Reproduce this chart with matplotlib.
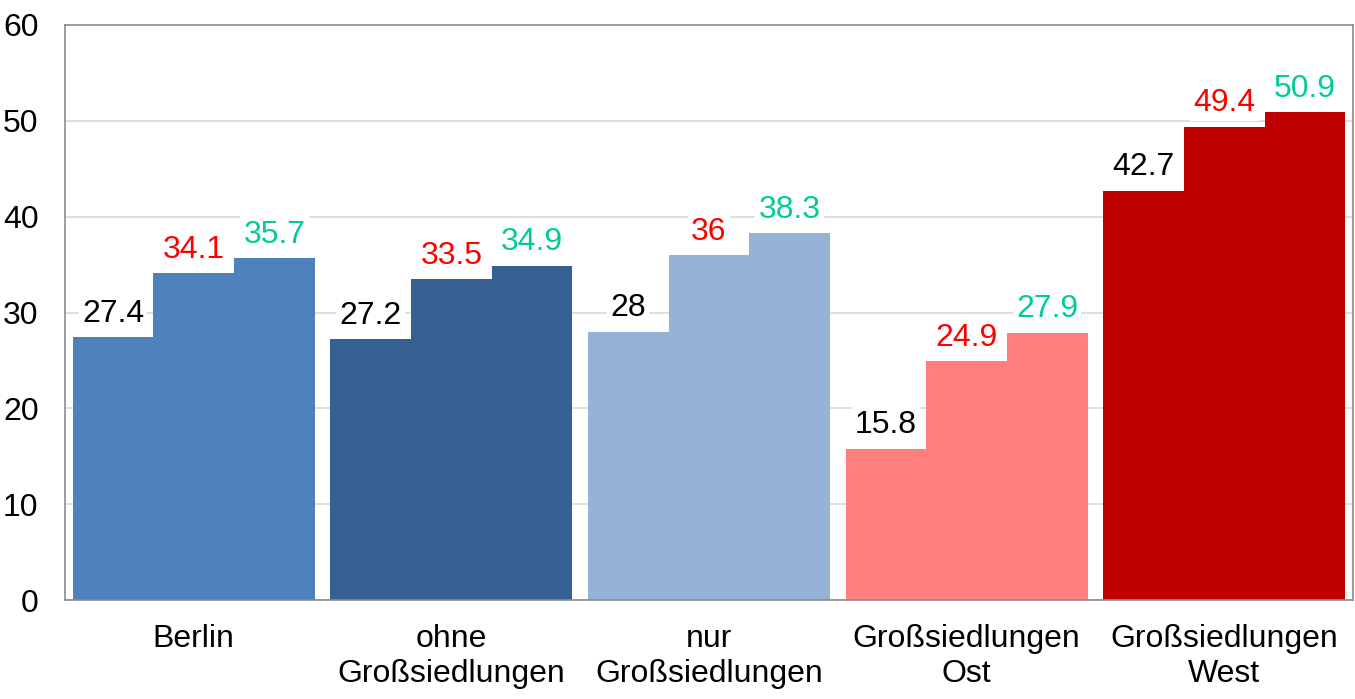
import matplotlib.pyplot as plt
import numpy as np

plt.rcParams['font.family'] = ['Liberation Sans', 'DejaVu Sans']

categories = ['Berlin', 'ohne\nGroßsiedlungen', 'nur\nGroßsiedlungen',
              'Großsiedlungen\nOst', 'Großsiedlungen\nWest']
series1 = [27.4, 27.2, 28.0, 15.8, 42.7]
series2 = [34.1, 33.5, 36.0, 24.9, 49.4]
series3 = [35.7, 34.9, 38.3, 27.9, 50.9]
labels1 = ['27.4', '27.2', '28', '15.8', '42.7']
labels2 = ['34.1', '33.5', '36', '24.9', '49.4']
labels3 = ['35.7', '34.9', '38.3', '27.9', '50.9']
group_colors = ['#4F81BD', '#366092', '#95B3D7', '#FF7F7F', '#C00000']
label_colors = ['black', '#FF0000', '#00CC99']

fig = plt.figure(figsize=(13.55, 6.99), dpi=100)
ax = fig.add_axes([65 / 1355, 1 - 600 / 699, 1288 / 1355, 575 / 699])

x = np.arange(len(categories))
w = 0.313
for i, (vals, labs) in enumerate([(series1, labels1), (series2, labels2), (series3, labels3)]):
    pos = x + (i - 1) * w
    ax.bar(pos, vals, width=w, color=group_colors, zorder=2)
    for p, v, t in zip(pos, vals, labs):
        ax.annotate(t, (p, v), xytext=(0, 6), textcoords='offset points',
                    ha='center', va='bottom', fontsize=23, color=label_colors[i],
                    bbox=dict(boxstyle='square,pad=0.1', fc='white', ec='none'),
                    zorder=3)

ax.set_xlim(-0.5, len(categories) - 0.5)
ax.set_ylim(0, 60)
ax.set_yticks(range(0, 61, 10))
ax.set_xticks(x)
ax.set_xticklabels(categories, fontsize=23, linespacing=1.25)
ax.tick_params(axis='y', labelsize=23, length=0, pad=19)
ax.tick_params(axis='x', length=0, pad=17)
ax.grid(axis='y', color='#D9D9D9', linewidth=1.2, zorder=0)
ax.set_axisbelow(True)
for s in ax.spines.values():
    s.set_color('#8C8C8C')
    s.set_linewidth(1.2)

fig.savefig('out.png', dpi=100)
